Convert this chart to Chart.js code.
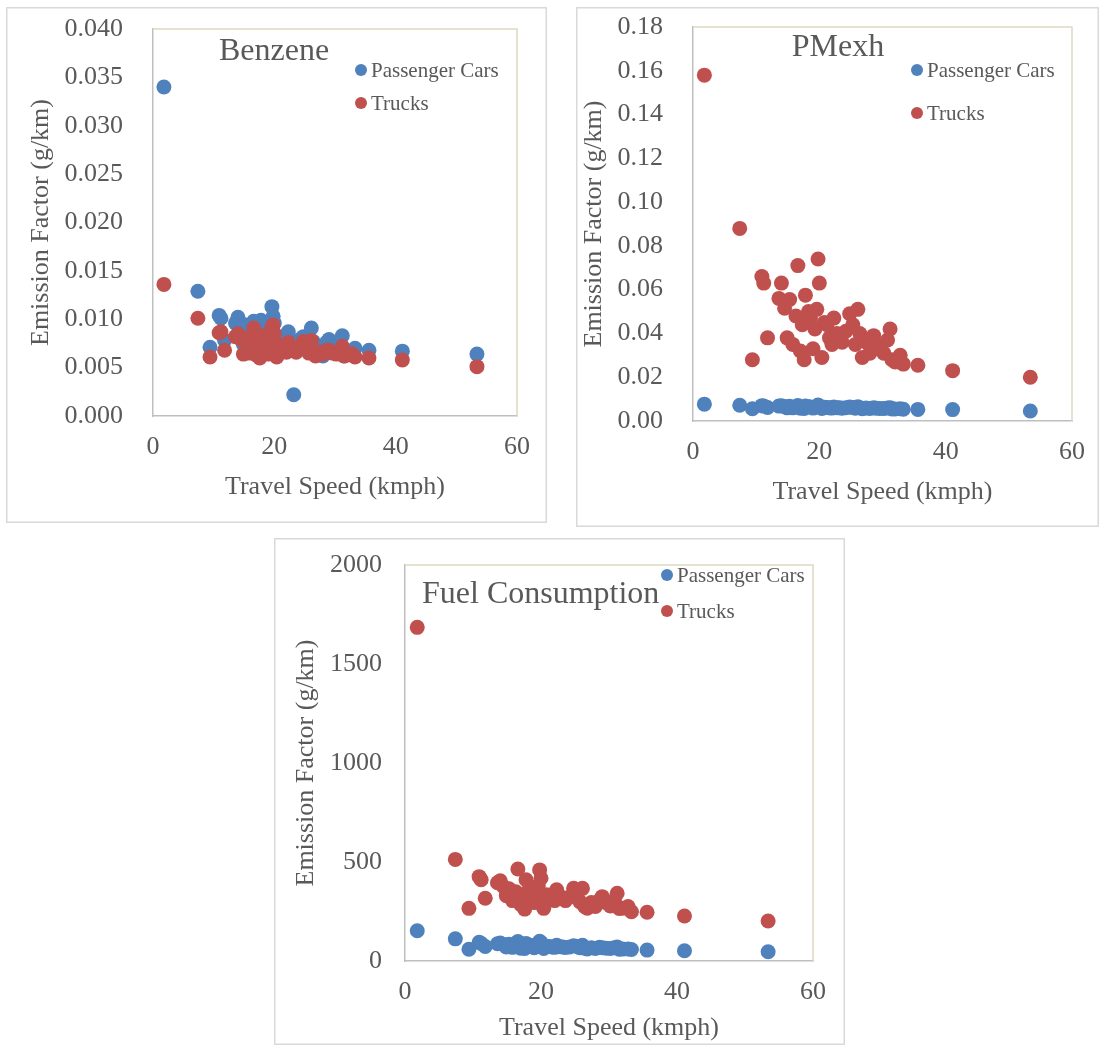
<!DOCTYPE html>
<html>
<head>
<meta charset="utf-8">
<script src="https://cdn.jsdelivr.net/npm/chart.js@4/dist/chart.umd.min.js"></script>
<style>
  body { margin: 0; background: #fff; width: 1100px; height: 1046px; position: relative; overflow: hidden; }
  canvas { position: absolute; }
</style>
</head>
<body>
<canvas id="benzene" width="541" height="516" style="left:6px;top:7px"></canvas>
<canvas id="pmexh" width="523" height="520" style="left:576px;top:7px"></canvas>
<canvas id="fuel" width="571" height="507" style="left:274px;top:538px"></canvas>
<script>
// data (travel speed in kmph, same speeds for every chart)

const speeds = [1.8, 7.4, 9.4, 10.9, 11.2, 11.8, 13.6, 14.0, 14.5, 14.9, 15.3, 15.8, 16.3, 16.6, 17.0, 17.3, 17.6, 17.8, 18.3, 18.6, 19.0, 19.3, 19.6, 19.8, 20.0, 20.4, 20.8, 21.2, 21.6, 22.0, 22.3, 22.8, 23.2, 23.6, 24.2, 24.8, 25.3, 25.7, 26.1, 26.4, 26.8, 27.4, 28.0, 28.6, 29.0, 29.6, 30.2, 30.8, 31.2, 31.5, 32.0, 32.8, 33.3, 35.6, 41.1, 53.4];

const benzeneCars = [0.0340, 0.0129, 0.0071, 0.0104, 0.0101, 0.0078, 0.0096, 0.0102, 0.0092, 0.0074, 0.0094, 0.0072, 0.0090, 0.0098, 0.0070, 0.0085, 0.0068, 0.0099, 0.0088, 0.0084, 0.0072, 0.0080, 0.0113, 0.0103, 0.0096, 0.0069, 0.0082, 0.0080, 0.0076, 0.0074, 0.0087, 0.0078, 0.0022, 0.0075, 0.0079, 0.0082, 0.0080, 0.0072, 0.0091, 0.0077, 0.0064, 0.0070, 0.0062, 0.0076, 0.0079, 0.0071, 0.0068, 0.0074, 0.0083, 0.0062, 0.0064, 0.0066, 0.0070, 0.0068, 0.0067, 0.0064];
const benzeneTrucks = [0.0136, 0.0101, 0.0061, 0.0086, 0.0087, 0.0068, 0.0082, 0.0085, 0.0079, 0.0064, 0.0080, 0.0065, 0.0078, 0.0091, 0.0063, 0.0074, 0.0060, 0.0083, 0.0077, 0.0072, 0.0064, 0.0070, 0.0092, 0.0094, 0.0085, 0.0061, 0.0073, 0.0071, 0.0068, 0.0066, 0.0076, 0.0069, 0.0068, 0.0066, 0.0070, 0.0077, 0.0073, 0.0065, 0.0078, 0.0068, 0.0062, 0.0066, 0.0064, 0.0068, 0.0068, 0.0065, 0.0064, 0.0066, 0.0072, 0.0062, 0.0063, 0.0064, 0.0061, 0.0060, 0.0058, 0.0051];

const pmCars = [0.0077, 0.0072, 0.0056, 0.0070, 0.0068, 0.0062, 0.0068, 0.0070, 0.0066, 0.0060, 0.0067, 0.0060, 0.0065, 0.0071, 0.0058, 0.0063, 0.0057, 0.0068, 0.0065, 0.0064, 0.0059, 0.0062, 0.0066, 0.0073, 0.0069, 0.0057, 0.0063, 0.0062, 0.0060, 0.0059, 0.0064, 0.0061, 0.0060, 0.0058, 0.0061, 0.0064, 0.0062, 0.0058, 0.0065, 0.0061, 0.0056, 0.0059, 0.0057, 0.0060, 0.0058, 0.0057, 0.0057, 0.0059, 0.0061, 0.0055, 0.0055, 0.0056, 0.0054, 0.0053, 0.0052, 0.0046];
const pmTrucks = [0.158, 0.088, 0.028, 0.066, 0.063, 0.038, 0.056, 0.063, 0.0515, 0.038, 0.0555, 0.035, 0.048, 0.071, 0.032, 0.044, 0.028, 0.0575, 0.050, 0.047, 0.033, 0.042, 0.051, 0.074, 0.063, 0.029, 0.045, 0.044, 0.038, 0.035, 0.047, 0.040, 0.039, 0.036, 0.041, 0.049, 0.044, 0.035, 0.051, 0.040, 0.029, 0.036, 0.031, 0.039, 0.035, 0.033, 0.031, 0.037, 0.042, 0.028, 0.027, 0.030, 0.026, 0.0255, 0.023, 0.020];

const fuelCars = [153, 112, 59, 95, 89, 73, 87, 91, 83, 71, 85, 69, 81, 98, 65, 77, 63, 89, 80, 78, 67, 73, 85, 100, 93, 63, 75, 73, 71, 69, 79, 72, 71, 68, 71, 77, 73, 67, 79, 65, 61, 67, 63, 69, 67, 65, 63, 67, 71, 59, 60, 61, 58, 55, 52, 47];
const fuelTrucks = [1685, 513, 266, 426, 410, 317, 395, 405, 375, 330, 365, 305, 350, 465, 285, 335, 262, 410, 365, 345, 295, 325, 380, 460, 418, 266, 335, 330, 310, 305, 360, 325, 320, 305, 323, 367, 340, 300, 367, 275, 267, 295, 275, 305, 325, 295, 278, 305, 342, 265, 267, 275, 249, 246, 227, 202];

const seriesNames = ['Passenger Cars', 'Trucks'];
const xTitle = 'Travel Speed (kmph)';
const yTitle = 'Emission Factor (g/km)';

// colours and fonts

const blue = '#4f81bd';
const red = '#c0504d';
const textColor = '#595959';
const serif = "'Liberation Serif', 'Times New Roman', serif";

// plugin: outer frame, plot frame, title and legend inside the plot

const decor = {
    id: 'decor',
    beforeDraw(chart, args, opts) {
        const ctx = chart.ctx;
        ctx.save();
        ctx.strokeStyle = '#d9d9d9';
        ctx.lineWidth = 1.5;
        ctx.strokeRect(0.75, 0.75, chart.width - 1.5, chart.height - 1.5);
        ctx.restore();
    },
    beforeDatasetsDraw(chart) {
        const a = chart.chartArea;
        const ctx = chart.ctx;
        ctx.save();
        ctx.strokeStyle = '#ddd9c3';
        ctx.lineWidth = 1.5;
        ctx.beginPath();
        ctx.moveTo(a.left, a.top);
        ctx.lineTo(a.right, a.top);
        ctx.lineTo(a.right, a.bottom);
        ctx.stroke();
        ctx.restore();
    },
    afterDatasetsDraw(chart, args, opts) {
        const ctx = chart.ctx;
        ctx.save();
        ctx.fillStyle = textColor;
        ctx.textBaseline = 'middle';
        ctx.font = '32px ' + serif;
        ctx.textAlign = opts.titleAlign;
        ctx.fillText(opts.title, opts.titleX, opts.titleY);

        ctx.font = '21px ' + serif;
        ctx.textAlign = 'left';
        chart.data.datasets.forEach((ds, i) => {
            const y = opts.legendY[i];
            ctx.fillStyle = ds.backgroundColor;
            ctx.beginPath();
            ctx.arc(opts.legendX, y, 6, 0, Math.PI * 2);
            ctx.fill();
            ctx.fillStyle = textColor;
            ctx.fillText(ds.label, opts.legendX + 10, y + 1);
        });
        ctx.restore();
    }
};

function points(ys) {
    return speeds.map((s, i) => ({ x: s, y: ys[i] }));
}

// one scatter chart, p holds the layout numbers of that panel

function makeChart(id, cars, trucks, p) {
    new Chart(document.getElementById(id), {
        type: 'scatter',
        data: {
            datasets: [
                { label: seriesNames[0], data: points(cars), backgroundColor: blue, pointRadius: 7.5, pointHoverRadius: 7.5, borderWidth: 0, order: 1 },
                { label: seriesNames[1], data: points(trucks), backgroundColor: red, pointRadius: 7.5, pointHoverRadius: 7.5, borderWidth: 0, order: 0 }
            ]
        },
        options: {
            responsive: false,
            animation: false,
            layout: { padding: { left: 0, top: p.top, right: p.right, bottom: 0 } },
            plugins: {
                legend: { display: false },
                tooltip: { enabled: false },
                decor: p.decor
            },
            scales: {
                x: {
                    type: 'linear',
                    min: 0,
                    max: 60,
                    grid: { display: false, drawTicks: false },
                    border: { display: true, color: '#bfbfbf', width: 1.5 },
                    ticks: { stepSize: 20, padding: 16, color: textColor, font: { family: serif, size: 26 } },
                    title: { display: true, text: xTitle, color: textColor, font: { family: serif, size: 26 }, padding: { top: 0, bottom: p.xTitlePad } },
                    afterFit: (scale) => {
                        scale.height = p.xHeight;
                        scale.paddingLeft = 0;
                        scale.paddingRight = 0;
                    }
                },
                y: {
                    type: 'linear',
                    min: 0,
                    max: p.yMax,
                    grid: { display: false, drawTicks: false },
                    border: { display: true, color: '#bfbfbf', width: 1.5 },
                    ticks: {
                        stepSize: p.yStep,
                        padding: p.yTickPad,
                        color: textColor,
                        font: { family: serif, size: 26 },
                        callback: (v) => v.toFixed(p.decimals)
                    },
                    title: { display: true, text: yTitle, color: textColor, font: { family: serif, size: 26 }, padding: { top: p.yTitlePad, bottom: 0 } },
                    afterFit: (scale) => {
                        scale.width = p.yWidth;
                        scale.paddingTop = 0;
                        scale.paddingBottom = 0;
                    }
                }
            }
        },
        plugins: [decor]
    });
}

makeChart('benzene', benzeneCars, benzeneTrucks, {
    top: 22, right: 30, xHeight: 107, yWidth: 147,
    yMax: 0.04, yStep: 0.005, decimals: 3,
    yTickPad: 30, yTitlePad: 20, xTitlePad: 20,
    decor: { title: 'Benzene', titleAlign: 'center', titleX: 268, titleY: 45, legendX: 355, legendY: [63, 96] }
});

makeChart('pmexh', pmCars, pmTrucks, {
    top: 20, right: 27, xHeight: 106, yWidth: 117,
    yMax: 0.18, yStep: 0.02, decimals: 2,
    yTickPad: 30, yTitlePad: 3, xTitlePad: 19,
    decor: { title: 'PMexh', titleAlign: 'center', titleX: 262, titleY: 41, legendX: 341, legendY: [63, 106] }
});

makeChart('fuel', fuelCars, fuelTrucks, {
    top: 27, right: 32, xHeight: 84, yWidth: 131,
    yMax: 2000, yStep: 500, decimals: 0,
    yTickPad: 23, yTitlePad: 17, xTitlePad: 1,
    decor: { title: 'Fuel Consumption', titleAlign: 'left', titleX: 148, titleY: 57, legendX: 393, legendY: [37, 73] }
});
</script>
</body>
</html>
